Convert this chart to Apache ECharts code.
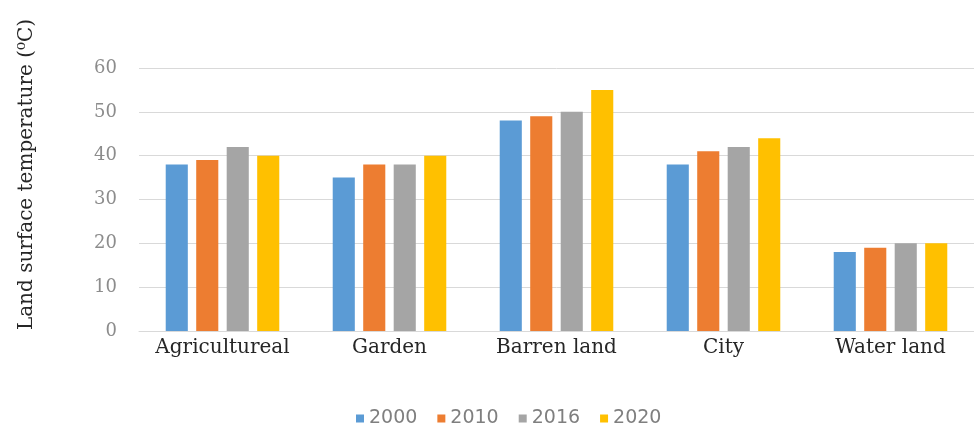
<!DOCTYPE html>
<html lang="en">
<head>
  <meta charset="UTF-8">
  <title>lst_bar</title>
  <script src="https://cdn.jsdelivr.net/npm/echarts@6/dist/echarts.min.js"></script>
  <style>
    *{margin:0;padding:0;}
    body{background:#fff;}
    .container{width:974px;height:439px;}
  </style>
</head>
<body>
  <div class="container"></div>
  <script type="text/javascript">
    var categories = ['Agricultureal', 'Garden', 'Barren land', 'City', 'Water land']
    var years = ['2000', '2010', '2016', '2020']
    var v2000 = [38, 35, 48, 38, 18]
    var v2010 = [39, 38, 49, 41, 19]
    var v2016 = [42, 38, 50, 42, 20]
    var v2020 = [40, 40, 55, 44, 20]
    var colors = ['#5B9BD5', '#ED7D31', '#A5A5A5', '#FFC000']

    const mCharts = echarts.init(document.querySelector('.container'))
    var seriesData = [v2000, v2010, v2016, v2020]
    var option = {
      color: colors,
      animation: false,
      grid: {
        left: 139,
        right: 0,
        top: 68,
        bottom: 108
      },
      legend: {
        bottom: 6,
        left: 351,
        itemWidth: 8,
        itemHeight: 8,
        itemGap: 20,
        icon: 'rect',
        textStyle: {
          color: '#7f7f7f',
          fontSize: 19,
          fontFamily: 'DejaVu Sans'
        },
        data: years
      },
      xAxis: {
        type: 'category',
        data: categories,
        axisTick: { show: false },
        axisLine: { lineStyle: { color: '#d9d9d9' } },
        axisLabel: {
          interval: 0,
          color: '#262626',
          fontSize: 20,
          fontFamily: 'DejaVu Serif',
          margin: 7
        }
      },
      yAxis: {
        type: 'value',
        min: 0,
        max: 60,
        interval: 10,
        name: 'Land surface temperature (⁰C)',
        nameLocation: 'middle',
        nameGap: 102,
        nameTextStyle: {
          color: '#262626',
          fontSize: 20,
          fontFamily: 'DejaVu Serif',
          padding: [0, 0, 0, 50]
        },
        axisLabel: {
          color: '#8c8c8c',
          fontSize: 18,
          fontFamily: 'DejaVu Serif',
          margin: 22
        },
        splitLine: { lineStyle: { color: '#d9d9d9' } }
      },
      series: seriesData.map(function (d, i) {
        return {
          name: years[i],
          type: 'bar',
          data: d,
          barGap: '38%',
          barCategoryGap: '32%'
        }
      })
    }
    mCharts.setOption(option)
    window.onresize = mCharts.resize
  </script>
</body>
</html>
